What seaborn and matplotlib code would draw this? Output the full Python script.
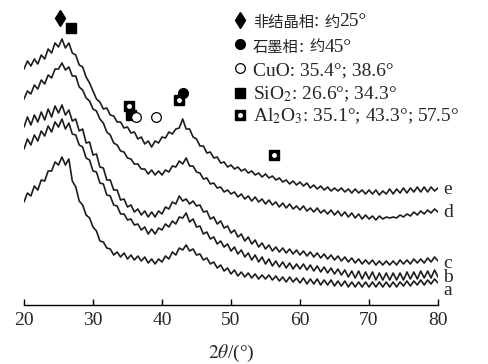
import numpy as np
import pandas as pd
import matplotlib
matplotlib.use("Agg")
import matplotlib.pyplot as plt
import seaborn as sns

# ---------------- data ----------------
two_theta = np.arange(20.0, 80.5, 0.5)

curve_a = [103, 112, 109, 119, 115, 125, 124, 134, 134, 143, 140, 148, 140, 146, 124, 118, 104, 100, 90, 87,
           78, 74, 64, 63, 57, 56, 50, 53, 48, 52, 46, 50, 45, 49, 44, 48, 42, 46, 41, 46,
           43, 49, 46, 53, 50, 57, 55, 60, 54, 56, 50, 51, 45, 47, 41, 43, 37, 40, 34, 37,
           31, 35, 29, 33, 28, 32, 27, 31, 26, 30, 26, 30, 25, 29, 24, 28, 23, 28, 23, 27,
           22, 27, 21, 26, 21, 26, 20, 25, 20, 25, 19, 24, 19, 24, 18, 23, 18, 23, 18, 23,
           18, 23, 18, 23, 18, 23, 18, 23, 18, 23, 19, 24, 19, 24, 20, 25, 20, 25, 21, 26, 22]

curve_b = [156, 166, 160, 170, 164, 174, 169, 179, 173, 183, 178, 186, 176, 182, 171, 170, 160, 158, 147, 145,
           134, 133, 122, 121, 110, 109, 100, 99, 91, 91, 85, 86, 80, 81, 75, 78, 71, 76, 71, 77,
           75, 81, 78, 84, 81, 88, 87, 92, 83, 86, 78, 79, 71, 73, 66, 68, 61, 64, 58, 61,
           54, 58, 51, 55, 48, 52, 45, 50, 43, 48, 41, 46, 39, 44, 38, 43, 37, 42, 36, 41,
           36, 41, 35, 40, 34, 39, 33, 38, 32, 37, 31, 36, 30, 35, 28, 34, 27, 34, 26, 33,
           26, 33, 25, 32, 25, 32, 25, 32, 25, 32, 25, 33, 26, 33, 26, 34, 27, 34, 27, 35, 28]

curve_c = [178, 188, 180, 190, 183, 193, 185, 196, 188, 199, 192, 200, 190, 195, 184, 186, 174, 176, 162, 163,
           150, 151, 138, 137, 125, 125, 115, 115, 105, 106, 98, 100, 93, 96, 90, 94, 88, 93, 88, 94,
           91, 98, 96, 103, 101, 109, 104, 106, 101, 104, 99, 100, 93, 94, 86, 88, 81, 84, 77, 79,
           72, 75, 68, 71, 64, 68, 61, 65, 58, 62, 56, 60, 54, 58, 53, 57, 52, 56, 51, 55,
           50, 54, 49, 53, 48, 52, 47, 51, 46, 50, 45, 49, 44, 48, 43, 47, 42, 46, 41, 45,
           41, 45, 40, 44, 40, 44, 40, 44, 40, 45, 41, 45, 41, 46, 42, 46, 42, 47, 43, 48, 44]

curve_d = [206, 214, 211, 220, 216, 225, 221, 230, 227, 236, 236, 242, 235, 238, 229, 229, 218, 215, 207, 204,
           196, 194, 186, 182, 173, 170, 162, 160, 154, 153, 147, 146, 141, 141, 136, 136, 131, 135, 130, 134,
           130, 135, 133, 139, 138, 144, 141, 147, 139, 139, 133, 132, 126, 127, 121, 122, 117, 118, 113, 115,
           111, 113, 108, 111, 106, 109, 104, 108, 103, 106, 101, 105, 100, 103, 98, 102, 97, 101, 96, 99,
           95, 99, 94, 97, 93, 97, 92, 95, 91, 95, 90, 94, 89, 93, 88, 92, 87, 91, 86, 90,
           86, 89, 85, 89, 86, 88, 87, 88, 87, 90, 88, 91, 89, 93, 90, 94, 91, 95, 92, 96, 93]

curve_e = [236, 244, 239, 246, 241, 250, 246, 256, 252, 262, 258, 266, 257, 262, 252, 250, 240, 238, 228, 222,
           214, 206, 203, 196, 197, 190, 189, 183, 183, 177, 178, 172, 173, 166, 168, 161, 164, 158, 164, 162,
           168, 167, 173, 171, 176, 177, 186, 176, 176, 168, 166, 159, 159, 152, 153, 147, 148, 142, 143, 138,
           140, 136, 138, 134, 136, 132, 134, 130, 132, 128, 131, 127, 129, 125, 127, 123, 125, 121, 124, 120,
           123, 119, 122, 117, 120, 116, 119, 115, 118, 114, 117, 114, 117, 113, 116, 112, 116, 112, 115, 111,
           115, 111, 115, 110, 114, 111, 116, 111, 116, 112, 117, 112, 117, 113, 118, 113, 118, 113, 118, 114, 117]

sample_names = ["a", "b", "c", "d", "e"]
curves = [curve_a, curve_b, curve_c, curve_d, curve_e]
label_pos_y = [10, 23, 37, 88, 111]          # baseline height of the end labels

# phase markers (2theta, intensity)
amorphous_x, amorphous_y = [25.2], [287]
graphite_x, graphite_y = [43.1], [212]
cuo_x, cuo_y = [36.2, 39.1], [188, 188]
sio2_x, sio2_y = [26.8, 35.5], [277, 190]
al2o3_x, al2o3_y = [35.2, 42.4, 56.2], [199, 205, 150]

legend_texts = ["CuO: 35.4°; 38.6°", "SiO$_2$: 26.6°; 34.3°", "Al$_2$O$_3$: 35.1°; 43.3°; 57.5°"]
x_ticks = [20, 30, 40, 50, 60, 70, 80]

# ---------------- style ----------------
sns.set_style("white")
plt.rcParams["font.family"] = ["Liberation Serif", "Noto Sans CJK SC"]
plt.rcParams["mathtext.fontset"] = "stix"

W, H = 488, 364
fig = plt.figure(figsize=(W / 100, H / 100), dpi=100)
ax = fig.add_axes([24 / W, (H - 305) / H, (438 - 24) / W, 305 / H])

df = pd.concat([pd.DataFrame({"2theta": two_theta, "intensity": c, "sample": n})
                for n, c in zip(sample_names, curves)], ignore_index=True)
sns.lineplot(data=df, x="2theta", y="intensity", hue="sample",
             palette={n: "#1c1c1c" for n in sample_names}, legend=False,
             estimator=None, sort=False, lw=1.2, ax=ax)

ax.set_xlim(20, 80)
ax.set_ylim(0, 305)
ax.set_yticks([])
ax.set_ylabel("")
for s in ["left", "right", "top"]:
    ax.spines[s].set_visible(False)
ax.spines["bottom"].set_color("black")
ax.spines["bottom"].set_linewidth(1.0)
ax.set_xticks(x_ticks)
ax.set_xticklabels([str(t) for t in x_ticks])
ax.tick_params(axis="x", direction="in", length=4, width=1, color="black",
               labelsize=14, pad=5, bottom=True)
ax.set_xlabel(r"$2\theta$/(°)", fontsize=14)
ax.xaxis.set_label_coords((231 - 24) / (438 - 24), -38 / 305)

# end labels
for n, yb in zip(sample_names, label_pos_y):
    ax.text(80.8, yb, n, fontsize=14, va="baseline", ha="left")

# peak markers
def draw_markers(xs, ys, kind):
    if kind == "amorphous":
        ax.plot(xs, ys, ls="none", marker="d", ms=8.5, color="black", clip_on=False)
    elif kind == "graphite":
        ax.plot(xs, ys, ls="none", marker="o", ms=7, color="black", clip_on=False)
    elif kind == "cuo":
        ax.plot(xs, ys, ls="none", marker="o", ms=7, mfc="white", mec="black", mew=0.9, clip_on=False)
    elif kind == "sio2":
        ax.plot(xs, ys, ls="none", marker="s", ms=7, color="black", clip_on=False)
    elif kind == "al2o3":
        ax.plot(xs, ys, ls="none", marker="s", ms=7, color="black", clip_on=False)
        ax.plot(xs, ys, ls="none", marker="o", ms=2.5, color="white", mec="white", clip_on=False)

draw_markers(al2o3_x, al2o3_y, "al2o3")
draw_markers(sio2_x, sio2_y, "sio2")
draw_markers(cuo_x, cuo_y, "cuo")
draw_markers(graphite_x, graphite_y, "graphite")
draw_markers(amorphous_x, amorphous_y, "amorphous")

# legend (markers + text)
leg_mx = 20 + (240 - 24) / 6.9
leg_tx = 20 + (253 - 24) / 6.9
leg_marker_y = [285, 261, 237, 212, 190]
leg_base_y = [278.5, 253.5, 230, 205.5, 183.5]
for kind, my in zip(["amorphous", "graphite", "cuo", "sio2", "al2o3"], leg_marker_y):
    draw_markers([leg_mx], [my], kind)

renderer = fig.canvas.get_renderer()
def draw_runs(runs, x, y):
    px, py = ax.transData.transform((x, y))
    for text, fam, size in runs:
        t = fig.text(px / W, py / H, text, fontsize=size, family=fam, va="baseline", ha="left")
        bb = t.get_window_extent(renderer=renderer)
        px = bb.x1

draw_runs([("非结晶相", "Noto Sans CJK SC", 11), (": ", "Liberation Serif", 14),
           ("约", "Noto Sans CJK SC", 11), ("25°", "Liberation Serif", 14)], leg_tx, leg_base_y[0])
draw_runs([("石墨相", "Noto Sans CJK SC", 11), (": ", "Liberation Serif", 14),
           ("约", "Noto Sans CJK SC", 11), ("45°", "Liberation Serif", 14)], leg_tx, leg_base_y[1])
for txt, yb in zip(legend_texts, leg_base_y[2:]):
    ax.text(leg_tx, yb, txt, fontsize=14, va="baseline", ha="left")

fig.savefig("out.png", dpi=100)
